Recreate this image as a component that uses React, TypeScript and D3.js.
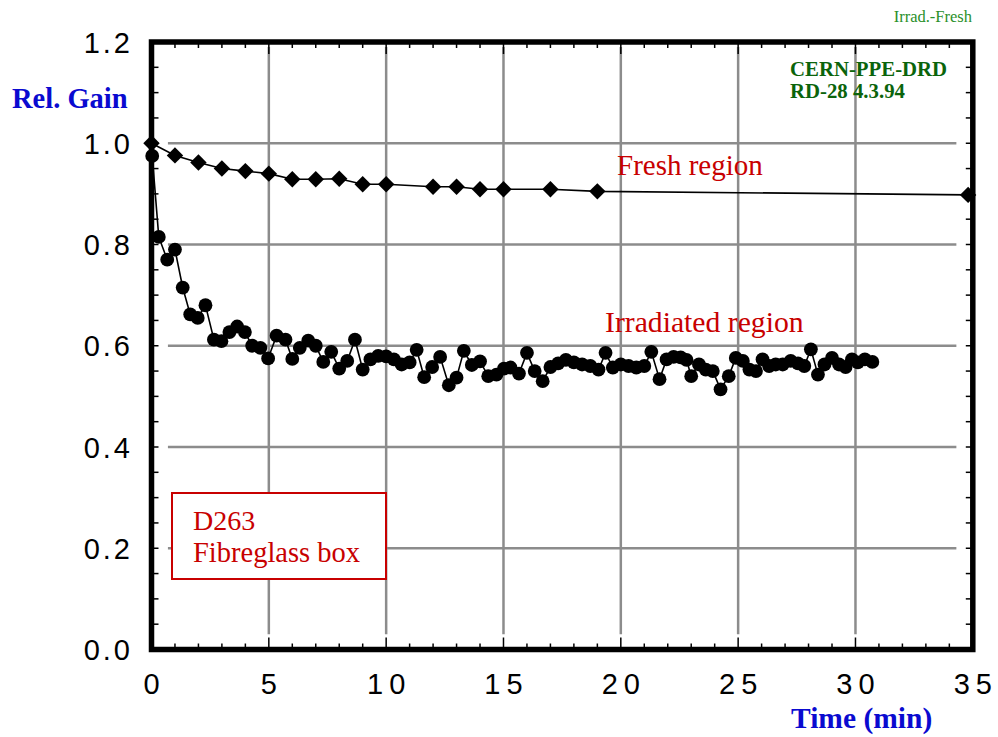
import React from "react";
import * as d3 from "d3";

const xTickValues = [0, 5, 10, 15, 20, 25, 30, 35];
const yTickValues = [0, 0.2, 0.4, 0.6, 0.8, 1.0, 1.2];
const yTickLabels = ["0.0", "0.2", "0.4", "0.6", "0.8", "1.0", "1.2"];

const freshTime = [0, 1, 2, 3, 4, 5, 6, 7, 8, 9, 10, 12, 13, 14, 15, 17, 19, 34.8];
const freshGain = [1.0, 0.976, 0.962, 0.95, 0.945, 0.94, 0.929, 0.929, 0.93, 0.919, 0.919, 0.914, 0.914, 0.909, 0.909, 0.909, 0.905, 0.898];

const irradTime = [
  0.03, 0.31, 0.67, 1.0, 1.33, 1.65, 1.97, 2.3, 2.66, 2.98, 3.32, 3.65, 3.98, 4.29, 4.64, 4.97,
  5.33, 5.71, 6.0, 6.32, 6.68, 7.0, 7.32, 7.66, 8.0, 8.34, 8.67, 9.0, 9.33, 9.66, 10.0, 10.33,
  10.66, 11.0, 11.3, 11.62, 11.96, 12.3, 12.67, 13.0, 13.31, 13.65, 14.0, 14.35, 14.7, 15.02,
  15.3, 15.66, 16.0, 16.33, 16.67, 17.0, 17.33, 17.66, 18.0, 18.35, 18.7, 19.05, 19.35, 19.66,
  20.0, 20.33, 20.66, 21.0, 21.3, 21.65, 21.95, 22.25, 22.55, 22.8, 23.0, 23.33, 23.62, 23.92,
  24.25, 24.6, 24.9, 25.2, 25.48, 25.76, 26.04, 26.32, 26.6, 26.9, 27.24, 27.55, 27.82, 28.1,
  28.4, 28.68, 29.0, 29.3, 29.58, 29.85, 30.1, 30.4, 30.72,
];
const irradGain = [
  0.975, 0.815, 0.77, 0.79, 0.715, 0.662, 0.655, 0.68, 0.612, 0.609, 0.627, 0.638, 0.627, 0.6, 0.596, 0.575,
  0.62, 0.612, 0.574, 0.596, 0.61, 0.6, 0.568, 0.588, 0.555, 0.57, 0.612, 0.553, 0.573, 0.58, 0.579, 0.573,
  0.563, 0.567, 0.592, 0.538, 0.558, 0.578, 0.522, 0.537, 0.59, 0.562, 0.569, 0.54, 0.543, 0.555,
  0.557, 0.545, 0.586, 0.55, 0.53, 0.558, 0.565, 0.572, 0.567, 0.563, 0.56, 0.553, 0.586, 0.557,
  0.563, 0.56, 0.557, 0.56, 0.588, 0.534, 0.573, 0.578, 0.577, 0.572, 0.54, 0.563, 0.553, 0.55,
  0.514, 0.54, 0.576, 0.57, 0.553, 0.55, 0.573, 0.56, 0.563, 0.563, 0.57, 0.565, 0.56, 0.593,
  0.543, 0.563, 0.576, 0.563, 0.558, 0.573, 0.567, 0.573, 0.568,
];

const RED = "#c80000";
const BLUE = "#0a0ad0";
const GREEN_DARK = "#0b640b";
const GREEN = "#2a8f2a";
const GRID = "#8c8c8c";

export default function App() {
  const x = d3.scaleLinear().domain([0, 35]).range([151.5, 972.8]);
  const y = d3.scaleLinear().domain([0, 1.2]).range([649.5, 42]);

  const fresh = freshTime.map((t, i) => [t, freshGain[i]] as [number, number]);
  const irrad = irradTime.map((t, i) => [t, irradGain[i]] as [number, number]);
  const line = d3.line<[number, number]>().x((d) => x(d[0])).y((d) => y(d[1]));
  const diamond = d3.symbol().type(d3.symbolSquare).size(135)() as string;

  const minorX = d3.range(0, 35.001, 1);
  const minorY = d3.range(0, 1.2001, 0.05);

  const x0 = x(0), x1 = x(35), y0 = y(0), y1 = y(1.2);

  return (
    <svg width={998} height={737} style={{ position: "absolute", left: 0, top: 0, background: "#fff" }}>
      <rect x={0} y={0} width={998} height={737} fill="#fff" />
      {/* grid */}
      {xTickValues.filter((v) => v > 0 && v < 35).map((v) => (
        <line key={"gx" + v} x1={x(v)} x2={x(v)} y1={y(1.19)} y2={y(0.03)} stroke={GRID} strokeWidth={2.5} />
      ))}
      {yTickValues.filter((v) => v > 0 && v < 1.2).map((v) => (
        <line key={"gy" + v} x1={x(0.7)} x2={x(34.3)} y1={y(v)} y2={y(v)} stroke={GRID} strokeWidth={2.5} />
      ))}
      {/* ticks */}
      {minorX.map((v) => {
        const major = Math.abs(v % 5) < 1e-6;
        const len = major ? 12 : 6;
        return (
          <g key={"tx" + v}>
            <line x1={x(v)} x2={x(v)} y1={y0} y2={y0 - len} stroke="#000" strokeWidth={1.5} />
            <line x1={x(v)} x2={x(v)} y1={y1} y2={y1 + len} stroke="#000" strokeWidth={1.5} />
          </g>
        );
      })}
      {minorY.map((v) => (
        <g key={"ty" + v}>
          <line x1={x0} x2={x0 + 7} y1={y(v)} y2={y(v)} stroke="#000" strokeWidth={1.5} />
          <line x1={x1} x2={x1 - 7} y1={y(v)} y2={y(v)} stroke="#000" strokeWidth={1.5} />
        </g>
      ))}
      {/* frame */}
      <rect x={x0} y={y1} width={x1 - x0} height={y0 - y1} fill="none" stroke="#000" strokeWidth={5.5} />
      {/* tick labels */}
      {xTickValues.map((v) => (
        <text key={"lx" + v} x={x(v) + 3} y={694} textAnchor="middle" fontFamily="Liberation Sans, Arial, sans-serif"
          fontSize={29} letterSpacing={6} fill="#000">{String(v)}</text>
      ))}
      {yTickValues.map((v, i) => (
        <text key={"ly" + v} x={133} y={y(v) + 10.5} textAnchor="end" fontFamily="Liberation Sans, Arial, sans-serif"
          fontSize={29} letterSpacing={3} fill="#000">{yTickLabels[i]}</text>
      ))}
      {/* series */}
      <path d={line(fresh) || ""} fill="none" stroke="#000" strokeWidth={1.6} />
      {fresh.map((d, i) => (
        <path key={"f" + i} d={diamond} transform={`translate(${x(d[0])},${y(d[1])}) rotate(45)`} fill="#000" />
      ))}
      <path d={line(irrad) || ""} fill="none" stroke="#000" strokeWidth={1.6} />
      {irrad.map((d, i) => (
        <circle key={"r" + i} cx={x(d[0])} cy={y(d[1])} r={6.9} fill="#000" />
      ))}
      {/* annotations */}
      <text x={617} y={175} fontFamily="Liberation Serif, Times New Roman, serif" fontSize={29} fill={RED}>Fresh region</text>
      <text x={605} y={332} fontFamily="Liberation Serif, Times New Roman, serif" fontSize={29.7} fill={RED}>Irradiated region</text>
      <rect x={172} y={493} width={214} height={86} fill="#fff" stroke={RED} strokeWidth={2} />
      <text x={193} y={530} fontFamily="Liberation Serif, Times New Roman, serif" fontSize={28} fill={RED}>D263</text>
      <text x={193} y={562} fontFamily="Liberation Serif, Times New Roman, serif" fontSize={28.5} fill={RED}>Fibreglass box</text>
      <text x={790} y={76} fontFamily="Liberation Serif, Times New Roman, serif" fontSize={20.8} fontWeight="bold" fill={GREEN_DARK}>CERN-PPE-DRD</text>
      <text x={790} y={98} fontFamily="Liberation Serif, Times New Roman, serif" fontSize={20.8} fontWeight="bold" fill={GREEN_DARK}>RD-28 4.3.94</text>
      <text x={972} y={22} textAnchor="end" fontFamily="Liberation Serif, Times New Roman, serif" fontSize={16.5} fill={GREEN}>Irrad.-Fresh</text>
      <text x={12} y={108} fontFamily="Liberation Serif, Times New Roman, serif" fontSize={28.5} fontWeight="bold" fill={BLUE}>Rel. Gain</text>
      <text x={791} y={728} fontFamily="Liberation Serif, Times New Roman, serif" fontSize={29.5} fontWeight="bold" fill={BLUE}>Time (min)</text>
    </svg>
  );
}
